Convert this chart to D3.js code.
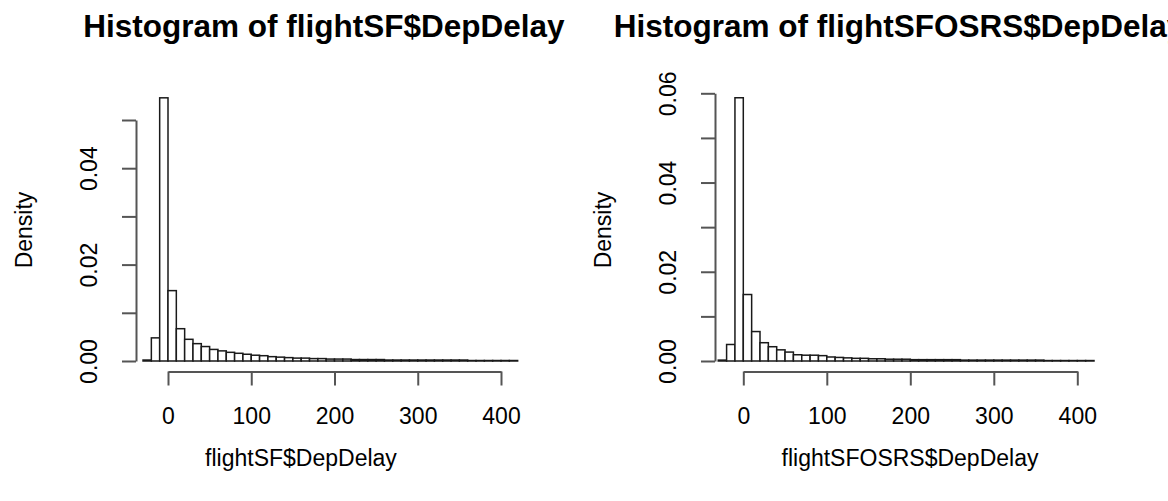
<!DOCTYPE html>
<html>

<head>
  <script src="https://cdn.jsdelivr.net/npm/d3@7"></script>
  <style>
    body { margin: 0; background: #fff; }
    text { font-family: "Liberation Sans", Arial, sans-serif; fill: #000; }
  </style>
</head>

<body>
  <svg width="1168" height="501" id="chart"></svg>
  <script>
    // bin edges shared by both histograms
    const breaks = [-30, -20, -10, 0, 10, 20, 30, 40, 50, 60, 70, 80, 90, 100, 110, 120, 130, 140, 150,
      160, 170, 180, 190, 200, 210, 220, 230, 240, 250, 260, 270, 280, 290, 300, 310, 320, 330, 340,
      350, 360, 370, 380, 390, 400, 410, 420];

    const densitySF = [0.0002, 0.0048, 0.0546, 0.0146, 0.0067, 0.0045, 0.0036, 0.0030, 0.0024, 0.0021,
      0.0018, 0.0016, 0.0014, 0.0012, 0.0011, 0.0009, 0.0008, 0.0007, 0.0006, 0.0006,
      0.0005, 0.0005, 0.0004, 0.0004, 0.0004, 0.0003, 0.0003, 0.0003, 0.0003, 0.0002,
      0.0002, 0.0002, 0.0002, 0.0002, 0.0002, 0.0002, 0.0002, 0.0002, 0.0002, 0.0001,
      0.0001, 0.0001, 0.0001, 0.0001, 0.0001];

    const densitySFOSRS = [0.0002, 0.0037, 0.0590, 0.0149, 0.0066, 0.0041, 0.0032, 0.0025, 0.0020, 0.0014,
      0.0013, 0.0013, 0.0012, 0.0009, 0.0008, 0.0007, 0.0006, 0.0006, 0.0005, 0.0005,
      0.0004, 0.0004, 0.0004, 0.0003, 0.0003, 0.0003, 0.0003, 0.0003, 0.0003, 0.0002,
      0.0002, 0.0002, 0.0002, 0.0002, 0.0002, 0.0002, 0.0002, 0.0002, 0.0002, 0.0001,
      0.0001, 0.0001, 0.0001, 0.0001, 0.0001];

    const xTicks = [0, 100, 200, 300, 400];
    const yTicksSF = [0, 0.01, 0.02, 0.03, 0.04, 0.05];
    const yTicksSFOSRS = [0, 0.01, 0.02, 0.03, 0.04, 0.05, 0.06];

    const svg = d3.select('#chart');

    const panels = [
      {
        title: 'Histogram of flightSF$DepDelay', xlab: 'flightSF$DepDelay', values: densitySF,
        yTicks: yTicksSF, x0: 168, x400: 501, yAxisX: 136, yTop: 120, titleX: 324, xlabX: 301
      },
      {
        title: 'Histogram of flightSFOSRS$DepDelay', xlab: 'flightSFOSRS$DepDelay', values: densitySFOSRS,
        yTicks: yTicksSFOSRS, x0: 743.3, x400: 1077.3, yAxisX: 715, yTop: 93.3, titleX: 899, xlabX: 910
      }
    ];

    const zeroY = 361;
    const xAxisY = 371.5;

    panels.forEach(p => {
      const g = svg.append('g');
      const xScale = d3.scaleLinear().domain([0, 400]).range([p.x0, p.x400]);
      const yMax = p.yTicks[p.yTicks.length - 1];
      const yScale = d3.scaleLinear().domain([0, yMax]).range([zeroY, p.yTop]);

      const bins = p.values.map((v, i) => ({ lo: breaks[i], hi: breaks[i + 1], v: v }));

      // bars
      g.selectAll('rect.bar')
        .data(bins)
        .join('rect')
        .attr('class', 'bar')
        .attr('x', d => xScale(d.lo))
        .attr('width', d => xScale(d.hi) - xScale(d.lo))
        .attr('y', d => yScale(d.v))
        .attr('height', d => zeroY - yScale(d.v))
        .attr('fill', '#fff')
        .attr('stroke', '#1a1a1a')
        .attr('stroke-width', 1.5);

      // x axis
      const xAxis = g.append('g')
        .attr('transform', `translate(0, ${xAxisY})`)
        .call(d3.axisBottom(xScale).tickValues(xTicks).tickSize(14).tickSizeOuter(0));
      xAxis.selectAll('text')
        .attr('y', 52).attr('dy', 0)
        .style('font-size', '23px');

      // y axis, only every other label is shown
      const yAxis = g.append('g')
        .attr('transform', `translate(${p.yAxisX}, 0)`)
        .call(d3.axisLeft(yScale).tickValues(p.yTicks).tickSize(14).tickSizeOuter(0)
          .tickFormat(d => Math.round(d * 100) % 2 === 0 ? d3.format('.2f')(d) : ''));
      yAxis.selectAll('text')
        .attr('transform', 'rotate(-90)')
        .attr('x', 0).attr('y', -39).attr('dy', 0)
        .attr('text-anchor', 'middle')
        .style('font-size', '23px');

      [xAxis, yAxis].forEach(a => {
        a.select('.domain').attr('stroke', '#555').attr('stroke-width', 2);
        a.selectAll('.tick line').attr('stroke', '#555').attr('stroke-width', 2);
      });

      // titles
      g.append('text')
        .attr('x', p.titleX).attr('y', 37)
        .attr('text-anchor', 'middle')
        .style('font-size', '31.5px').style('font-weight', 'bold')
        .text(p.title);

      g.append('text')
        .attr('x', p.xlabX).attr('y', 466)
        .attr('text-anchor', 'middle')
        .style('font-size', '23px')
        .text(p.xlab);

      g.append('text')
        .attr('transform', `translate(${p.yAxisX - 104}, 230) rotate(-90)`)
        .attr('text-anchor', 'middle')
        .style('font-size', '23px')
        .text('Density');
    });
  </script>
</body>

</html>
